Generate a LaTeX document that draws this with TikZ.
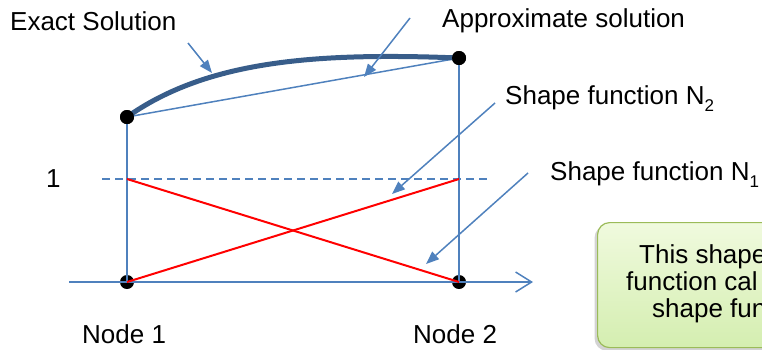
\documentclass[tikz,border=0pt]{standalone}
\usepackage{fontspec}
\setmainfont{Liberation Sans}
\usetikzlibrary{arrows.meta,shadows}
\definecolor{lineblue}{RGB}{79,129,189}
\definecolor{exactblue}{RGB}{56,93,138}
\definecolor{notegreen}{RGB}{155,187,89}
\definecolor{notetop}{RGB}{240,250,222}
\definecolor{notebot}{RGB}{212,238,176}
\tikzset{
  txt/.style={font=\fontsize{26}{30}\selectfont, inner sep=0pt, anchor=base west},
  dot/.style={circle, fill=black, inner sep=0pt, minimum size=14pt},
  pt/.style={inner sep=0pt, minimum size=0pt},
  frame/.style={lineblue, line width=1.5pt},
  pointer/.style={lineblue, line width=1.5pt, -{Triangle[length=13pt,width=10pt]}},
  redline/.style={red, line width=2pt},
}
\newcommand{\subdigit}[1]{\raisebox{-0.3em}{\fontsize{17}{17}\selectfont #1}}
\begin{document}
\begin{tikzpicture}[x=1pt,y=-1pt]
\useasboundingbox (0,0) rectangle (762,349);
\begin{scope}
\clip (0,0) rectangle (762,349);

% nodal points
\node[dot] (n1) at (127,282) {};
\node[dot] (n2) at (459,282) {};
\node[dot] (u1) at (127,117) {};
\node[dot] (u2) at (459,58) {};
\node[pt] (h1) at (127,179) {};
\node[pt] (h2) at (459,179) {};
\coordinate (axL) at (69,282);
\coordinate (axR) at (533,282);
\coordinate (dL) at (102,179);
\coordinate (dR) at (490,179);

% x axis
\draw[frame, -{Straight Barb[length=16pt,width=20pt,line width=1.5pt]}] (axL) -- (axR);
% ordinates at the nodes
\draw[frame] (n1.center) -- (u1.center);
\draw[frame] (n2.center) -- (u2.center);
% unit level
\draw[frame, dash pattern=on 8pt off 5pt] (dL) -- (dR);

% linear shape functions
\draw[redline] (h1.center) -- (n2.center);
\draw[redline] (n1.center) -- (h2.center);

% approximate (linear) solution
\draw[lineblue, line width=1.5pt] (u1.center) -- (u2.center);
% exact solution
\draw[exactblue, line width=5pt] (u1.center) .. controls (205,62) and (310,52) .. (u2.center);
\node[dot] at (u1) {};
\node[dot] at (u2) {};

% labels
\node[txt] (lex) at (10,30) {Exact Solution};
\node[txt] (lap) at (442,27) {Approximate solution};
\node[txt] (ln2) at (505,104) {Shape function N\subdigit{2}};
\node[txt] (ln1) at (550,180) {Shape function N\subdigit{1}};
\node[txt] (lone) at (46,187) {1};
\node[txt] (lnode1) at (82,343) {Node 1};
\node[txt] (lnode2) at (413,343) {Node 2};

% pointers
\coordinate (aex1) at (188,43);  \coordinate (aex2) at (212,73);
\coordinate (aap1) at (410,18);  \coordinate (aap2) at (364,77);
\coordinate (an21) at (495,103); \coordinate (an22) at (392,194);
\coordinate (an11) at (528,173); \coordinate (an12) at (426,264);
\draw[pointer] (aex1) -- (aex2);
\draw[pointer] (aap1) -- (aap2);
\draw[pointer] (an21) -- (an22);
\draw[pointer] (an11) -- (an12);

% note box
\node[draw=notegreen, line width=1.2pt, rounded corners=12pt,
      top color=notetop, bottom color=notebot,
      drop shadow={shadow xshift=-3pt, shadow yshift=-3pt, opacity=0.35},
      minimum width=220pt, minimum height=125pt, anchor=north west, inner sep=0pt]
      (note) at (597,222) {};
\node[txt] (nt1) at (639,263) {This shape};
\node[txt] (nt2) at (626,290) {function cal};
\node[txt] (nt3) at (652,317) {shape fun};
\end{scope}
\end{tikzpicture}
\end{document}
